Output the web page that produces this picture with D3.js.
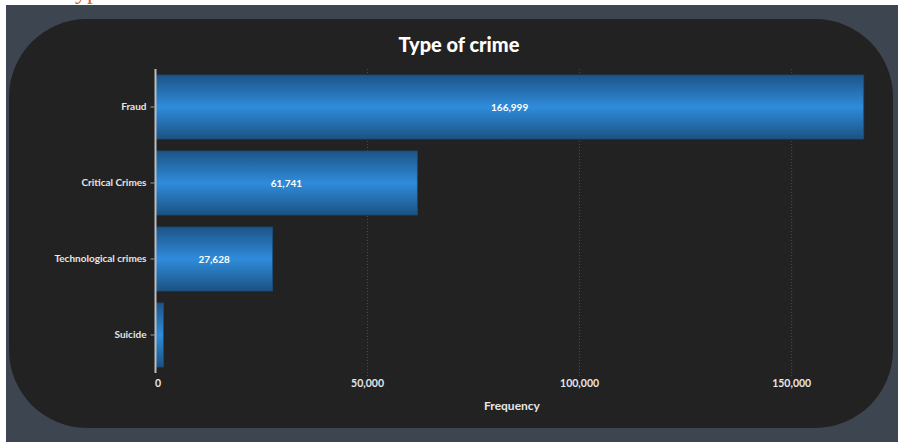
<!DOCTYPE html>
<html>
<head>
<meta charset="utf-8">
<script src="https://cdn.jsdelivr.net/npm/d3@7"></script>
<style>
  html, body { margin: 0; padding: 0; background: #ffffff; }
  svg { display: block; }
</style>
</head>
<body>
<svg id="chart" width="898" height="442"></svg>
<script>
// Crime counts by type
const categories = ["Fraud", "Critical Crimes", "Technological crimes", "Suicide"];
const counts = [166999, 61741, 27628, 1900];
const shownLabels = ["166,999", "61,741", "27,628", ""];
const xTicks = [0, 50000, 100000, 150000];
const xMax = 168000;

const svg = d3.select("#chart");
const font = "Lato, 'Open Sans', sans-serif";

// page heading partly scrolled off the top
svg.append("text")
  .attr("x", 62).attr("y", -1)
  .attr("font-family", "'Liberation Serif', serif")
  .attr("font-size", 24)
  .attr("fill", "#d06a22")
  .text("Type of crime");

// slate backdrop and rounded dark card
svg.append("rect")
  .attr("x", 6).attr("y", 5).attr("width", 892).attr("height", 437)
  .attr("fill", "#3d4551");
svg.append("rect")
  .attr("x", 9).attr("y", 19).attr("width", 884).attr("height", 409)
  .attr("rx", 78).attr("ry", 78)
  .attr("fill", "#222222");

const defs = svg.append("defs");
const grad = defs.append("linearGradient")
  .attr("id", "barGrad").attr("x1", 0).attr("y1", 0).attr("x2", 0).attr("y2", 1);
grad.append("stop").attr("offset", "0%").attr("stop-color", "#1c5486");
grad.append("stop").attr("offset", "50%").attr("stop-color", "#2f8cdb");
grad.append("stop").attr("offset", "100%").attr("stop-color", "#1b5283");

const x = d3.scaleLinear().domain([0, xMax]).range([155.5, 868]);
const y = d3.scaleBand().domain(categories).range([69, 373])
  .paddingInner(12 / 76).paddingOuter(6 / 76);

// title
svg.append("text")
  .attr("x", 459).attr("y", 52)
  .attr("text-anchor", "middle")
  .attr("font-family", font).attr("font-weight", 900)
  .attr("font-size", 20).attr("fill", "#ffffff")
  .text("Type of crime");

// vertical dotted grid
svg.append("g").selectAll("line")
  .data(xTicks.filter(d => d > 0))
  .join("line")
  .attr("x1", d => x(d)).attr("x2", d => x(d))
  .attr("y1", 69).attr("y2", 378)
  .attr("stroke", "#4e4e4e").attr("stroke-width", 1)
  .attr("stroke-dasharray", "1,2");

// bars
svg.append("g").selectAll("rect")
  .data(categories)
  .join("rect")
  .attr("x", x(0))
  .attr("y", d => y(d))
  .attr("width", (d, i) => x(counts[i]) - x(0))
  .attr("height", y.bandwidth())
  .attr("fill", "url(#barGrad)")
  .attr("stroke", "#1a4c7a").attr("stroke-width", 0.8);

// value labels
svg.append("g").selectAll("text")
  .data(categories)
  .join("text")
  .attr("x", (d, i) => (x(0) + x(counts[i])) / 2)
  .attr("y", d => y(d) + y.bandwidth() / 2 + 3.5)
  .attr("text-anchor", "middle")
  .attr("font-family", font).attr("font-weight", 700)
  .attr("font-size", 10).attr("fill", "#ffffff")
  .text((d, i) => shownLabels[i]);

// y axis
const yAxis = svg.append("g")
  .attr("transform", `translate(${x(0)},0)`)
  .call(d3.axisLeft(y).tickSize(5).tickPadding(4));
yAxis.select(".domain").attr("stroke", "#bdbdbd").attr("stroke-width", 2)
  .attr("d", "M0,69V373");
yAxis.selectAll(".tick line").attr("stroke", "#9a9a9a");
yAxis.selectAll(".tick text")
  .attr("font-family", font).attr("font-weight", 700)
  .attr("font-size", 10).attr("fill", "#e6e6e6");

// x axis tick labels
svg.append("g").selectAll("text")
  .data(xTicks)
  .join("text")
  .attr("x", d => x(d) + (d === 0 ? 2.5 : 0))
  .attr("y", 387)
  .attr("text-anchor", "middle")
  .attr("font-family", font).attr("font-weight", 700)
  .attr("font-size", 10.5).attr("fill", "#e6e6e6")
  .text(d => d3.format(",")(d));

// x axis title
svg.append("text")
  .attr("x", 512).attr("y", 410)
  .attr("text-anchor", "middle")
  .attr("font-family", font).attr("font-weight", 700)
  .attr("font-size", 12).attr("fill", "#e6e6e6")
  .text("Frequency");
</script>
</body>
</html>
